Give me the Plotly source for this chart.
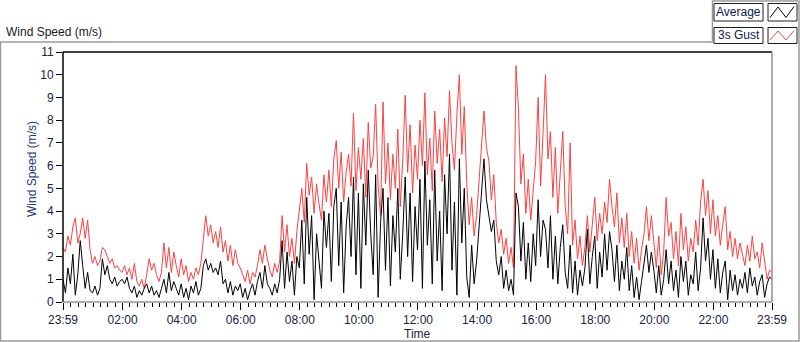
import plotly.graph_objects as go

# Sampling: every 5 minutes starting at 23:59 (minute 0) through 23:59 next day (minute 1440)
sample_step_min = 5

gust = [
    2.4, 2.2, 2.9, 2.5, 3.3, 3.7, 2.6, 3.0, 3.7, 2.8, 3.6, 2.3,
    1.7, 2.0, 1.6, 1.8, 2.4, 2.3, 2.0, 1.7, 1.9, 1.5, 1.6, 1.4,
    1.3, 1.6, 1.2, 1.5, 1.0, 1.7, 0.9, 0.7, 1.0, 0.6, 1.2, 1.9,
    1.4, 1.7, 1.2, 0.9, 1.3, 2.6, 1.5, 2.4, 1.3, 2.2, 1.6, 1.1,
    1.9, 1.2, 1.6, 0.9, 1.3, 1.0, 1.5, 1.2, 1.7, 2.8, 3.8, 2.9,
    3.4, 2.6, 3.1, 2.4, 3.3, 2.2, 2.7, 1.8, 2.5, 1.6, 2.3, 1.7,
    1.5, 1.2, 0.9, 1.4, 0.8, 1.3, 1.1, 1.6, 2.3, 1.7, 2.5, 1.9,
    1.4, 1.1, 1.7, 1.3, 1.8, 3.8, 2.2, 3.4, 2.0, 2.8, 1.7, 3.1,
    4.0, 5.0, 3.5, 6.1, 4.7, 5.5, 3.9, 5.2, 4.3, 3.6, 5.6, 4.4,
    5.8, 4.2, 6.3, 7.1, 5.0, 6.6, 4.4, 5.7, 6.5, 5.1, 8.3, 4.9,
    6.8, 5.4, 7.2, 4.6, 7.9, 5.9, 6.4, 8.7, 5.1, 3.8, 8.8, 5.2,
    7.0, 4.5, 6.5, 5.0, 7.6, 4.2, 6.2, 9.1, 5.7, 7.8, 4.8, 6.9,
    5.4, 8.0, 6.0, 9.2, 5.6, 7.2, 4.9, 8.4, 6.1, 7.6, 5.3, 8.1,
    6.4, 9.3, 7.0, 5.8, 8.2, 10.0, 6.5, 8.6, 5.2, 3.4, 4.6, 2.9,
    3.8, 5.2, 6.9, 8.4, 6.8, 6.2, 4.5, 5.6, 3.5, 2.6, 3.2, 2.1,
    2.8, 1.7, 2.4, 1.5, 10.4, 8.5, 5.2, 6.5, 3.9, 5.4, 3.6, 4.8,
    6.2, 9.0, 5.1, 7.4, 10.0, 6.3, 7.5, 4.6, 6.8, 3.9, 5.7, 7.5,
    4.2, 3.0, 7.0, 2.5, 3.6, 1.9, 2.9, 1.6, 2.4, 3.8, 2.2, 3.3,
    4.6, 2.7, 3.9, 3.0, 4.4, 3.5, 5.4, 4.2, 3.3, 4.8, 2.6, 3.7,
    2.4, 3.9, 2.0, 3.1, 1.7, 2.8, 1.4, 2.3, 3.0, 4.2, 2.7, 3.8,
    2.6, 1.5, 2.9, 1.2, 2.2, 4.6, 2.9, 3.5, 1.9, 3.1, 1.6, 3.9,
    2.3, 3.3, 1.8, 2.8, 2.2, 3.6, 2.5, 4.4, 5.4, 3.8, 4.9, 3.0,
    4.5, 2.9, 3.8, 2.5, 3.4, 4.2, 2.3, 3.1, 2.0, 2.8, 1.9, 2.6,
    2.1, 1.6, 2.5, 1.8, 2.9, 1.9, 2.2, 1.5, 2.6, 1.7, 1.0, 1.4,
    1.3,
]

average = [
    1.0, 0.4, 1.5, 0.8, 2.1, 0.3, 1.2, 2.7, 1.6, 0.6, 1.3, 0.5,
    0.4, 0.7, 0.3, 0.6, 1.9, 1.2, 1.6, 1.0, 0.8, 1.1, 0.7, 0.9,
    1.0, 0.8, 1.1, 0.6, 0.4, 0.7, 0.2, 0.5, 0.3, 0.6, 0.8, 0.4,
    0.7, 0.3, 0.5, 0.2, 0.6, 1.0, 0.4, 1.3, 0.5, 0.9, 0.6, 0.3,
    0.8, 0.2, 0.6, 0.1, 0.7, 0.4, 0.9, 0.3, 0.6, 1.6, 1.9, 1.4,
    1.7, 1.3, 1.5, 1.2, 1.8, 0.8, 1.0, 0.4, 0.9, 0.3, 0.7, 0.5,
    0.8, 0.2, 0.6, 0.1, 0.5, 0.8, 0.3, 0.9, 1.3, 0.6, 1.6, 0.8,
    0.6, 0.3, 0.8, 0.4, 1.0, 2.7, 0.6, 2.2, 0.9, 1.8, 0.3, 2.0,
    1.5, 3.6, 0.8, 4.6, 2.1, 3.8, 0.1, 3.0, 1.8, 0.6, 4.0, 2.4,
    3.9, 0.9, 4.2, 5.0, 1.6, 4.4, 0.4, 3.3, 4.6, 2.0, 5.5, 1.2,
    4.8, 0.6, 5.2, 2.5, 5.8, 3.0, 1.2, 5.6, 0.2, 3.5, 5.0, 1.4,
    4.6, 0.7, 3.8, 2.2, 5.0, 1.0, 3.0, 5.5, 2.0, 4.8, 0.9, 4.2,
    2.3, 5.4, 0.6, 6.2, 2.5, 4.5, 0.8, 5.8, 1.8, 4.0, 0.5, 5.6,
    3.0, 6.5, 1.4, 4.4, 0.3, 6.3, 2.6, 5.0, 1.1, 0.2, 2.5, 0.8,
    1.8, 3.3, 4.8, 6.3, 4.5, 3.8, 3.1, 3.6, 1.8, 1.2, 2.0, 0.6,
    1.4, 0.5, 1.0, 0.3, 4.8, 4.2, 1.8, 3.5, 1.0, 2.6, 0.9, 3.0,
    1.6, 4.5, 2.0, 3.6, 3.2, 1.5, 3.8, 1.0, 2.9, 0.8, 2.4, 3.4,
    1.3, 0.6, 2.5, 0.4, 1.8, 0.3, 1.4, 0.7, 1.5, 3.2, 0.8, 2.0,
    2.9, 0.6, 2.2, 1.1, 3.0, 1.4, 3.1, 2.3, 0.9, 2.5, 0.5, 1.8,
    1.0, 2.4, 0.5, 1.6, 0.2, 1.1, 0.1, 0.9, 1.7, 2.5, 1.3, 2.2,
    1.4, 0.4, 1.6, 0.3, 1.0, 2.3, 0.8, 1.8, 0.5, 1.4, 0.2, 2.0,
    0.9, 1.8, 0.3, 1.2, 0.8, 2.2, 0.5, 1.5, 3.7, 1.8, 2.8, 1.0,
    2.3, 0.6, 1.9, 0.4, 1.3, 1.8, 0.1, 1.4, 0.5, 1.2, 0.3, 1.0,
    0.6, 1.3, 0.4, 1.5, 0.7, 1.1, 0.3, 0.9, 1.2, 0.2, 0.8, 1.1,
    1.0,
]

tick_minutes = [0, 121, 241, 361, 481, 601, 721, 841, 961, 1081, 1201, 1321, 1440]
tick_labels = ["23:59", "02:00", "04:00", "06:00", "08:00", "10:00", "12:00",
               "14:00", "16:00", "18:00", "20:00", "22:00", "23:59"]
y_ticks = list(range(0, 12))

minutes = [i * sample_step_min for i in range(len(gust))]

W, H = 800, 342
L, R, T, B = 63, 772, 52, 302   # plot area in pixels


def px(x):
    return (x - L) / (R - L)


def py(y):
    return (B - y) / (B - T)


fig = go.Figure()
fig.add_trace(go.Scatter(x=minutes, y=gust, mode="lines", name="3s Gust",
                         line=dict(color="#FF4040", width=1), showlegend=False,
                         hoverinfo="skip"))
fig.add_trace(go.Scatter(x=minutes, y=average, mode="lines", name="Average",
                         line=dict(color="#000000", width=1), showlegend=False,
                         hoverinfo="skip"))

font = "Liberation Sans, Arial, sans-serif"
label_col = "#1a2240"

fig.update_layout(
    width=W, height=H, autosize=False,
    margin=dict(l=L, r=W - R, t=T, b=H - B, pad=0),
    paper_bgcolor="white", plot_bgcolor="white",
    font=dict(family=font, size=12, color="#000000"),
    showlegend=False,
    xaxis=dict(
        range=[0, 1440], tickmode="array", tickvals=tick_minutes, ticktext=tick_labels,
        ticks="outside", ticklen=7, tickcolor="#000000", tickwidth=1,
        showgrid=False, zeroline=False, showline=False, automargin=False,
        minor=dict(tickmode="linear", tick0=1, dtick=15, ticks="outside", ticklen=4,
                   tickcolor="#000000", showgrid=False),
        tickfont=dict(size=12, color=label_col),
    ),
    yaxis=dict(
        range=[0, 11], tickmode="array", tickvals=y_ticks,
        ticks="outside", ticklen=6, tickcolor="#000000",
        showgrid=False, zeroline=False, showline=False, automargin=False,
        tickfont=dict(size=12, color=label_col),
    ),
)

shapes = []
# plot frame: black left/top, gray right/bottom
shapes.append(dict(type="line", xref="paper", yref="paper", x0=0, x1=0, y0=0, y1=1,
                   line=dict(color="#000000", width=1.5)))
shapes.append(dict(type="line", xref="paper", yref="paper", x0=0, x1=1, y0=1, y1=1,
                   line=dict(color="#000000", width=1.5)))
shapes.append(dict(type="line", xref="paper", yref="paper", x0=1, x1=1, y0=0, y1=1,
                   line=dict(color="#909090", width=1.5)))
shapes.append(dict(type="line", xref="paper", yref="paper", x0=0, x1=1, y0=0, y1=0,
                   line=dict(color="#909090", width=1.5)))

# outer panel border (gray), including the legend region at top right
gray = "#9a9a9a"
panel_path = (f"M {px(0.5)},{py(341)} L {px(0.5)},{py(42)} L {px(712.5)},{py(42)} "
              f"L {px(712.5)},{py(1)} L {px(799)},{py(1)} L {px(799)},{py(341)} Z")
shapes.append(dict(type="path", xref="paper", yref="paper", path=panel_path,
                   line=dict(color=gray, width=1.5)))

# legend boxes
legend_items = [("Average", "#000000", 3.5, 21), ("3s Gust", "#FF4040", 27.5, 43.5)]
annotations = []
for label, color, y0, y1 in legend_items:
    shapes.append(dict(type="rect", xref="paper", yref="paper",
                       x0=px(714), x1=px(763), y0=py(y1), y1=py(y0),
                       line=dict(color="#202020", width=1), fillcolor="white"))
    shapes.append(dict(type="rect", xref="paper", yref="paper",
                       x0=px(768), x1=px(797), y0=py(y1), y1=py(y0),
                       line=dict(color="#202020", width=1), fillcolor="white"))
    zx = [770, 778, 786, 794]
    zy = [y1 - 3.5, y0 + 3.5, y1 - 3.5, y0 + 3]
    path = "M " + " L ".join(f"{px(a)},{py(b)}" for a, b in zip(zx, zy))
    shapes.append(dict(type="path", xref="paper", yref="paper", path=path,
                       line=dict(color=color, width=1)))
    annotations.append(dict(text=label, xref="paper", yref="paper",
                            x=px(738.5), y=py((y0 + y1) / 2), xanchor="center", yanchor="middle",
                            showarrow=False, font=dict(size=12, color="#0a1a50")))

annotations.append(dict(text="Wind Speed (m/s)", xref="paper", yref="paper",
                        x=px(4), y=py(32.5), xanchor="left", yanchor="middle",
                        showarrow=False, font=dict(size=12, color="#1a1a1a")))
# axis titles
annotations.append(dict(text="Wind Speed (m/s)", xref="paper", yref="paper",
                        x=px(32), y=py(169), xanchor="center", yanchor="middle",
                        textangle=-90, showarrow=False,
                        font=dict(size=12, color="#1f3a78")))
annotations.append(dict(text="Time", xref="paper", yref="paper",
                        x=px(417), y=py(334), xanchor="center", yanchor="middle",
                        showarrow=False, font=dict(size=12, color=label_col)))

fig.update_layout(shapes=shapes, annotations=annotations)
fig.write_html("out.html",
               config={"displayModeBar": False, "staticPlot": True},
               post_script="document.body.style.margin='0';document.body.style.overflow='hidden';")
